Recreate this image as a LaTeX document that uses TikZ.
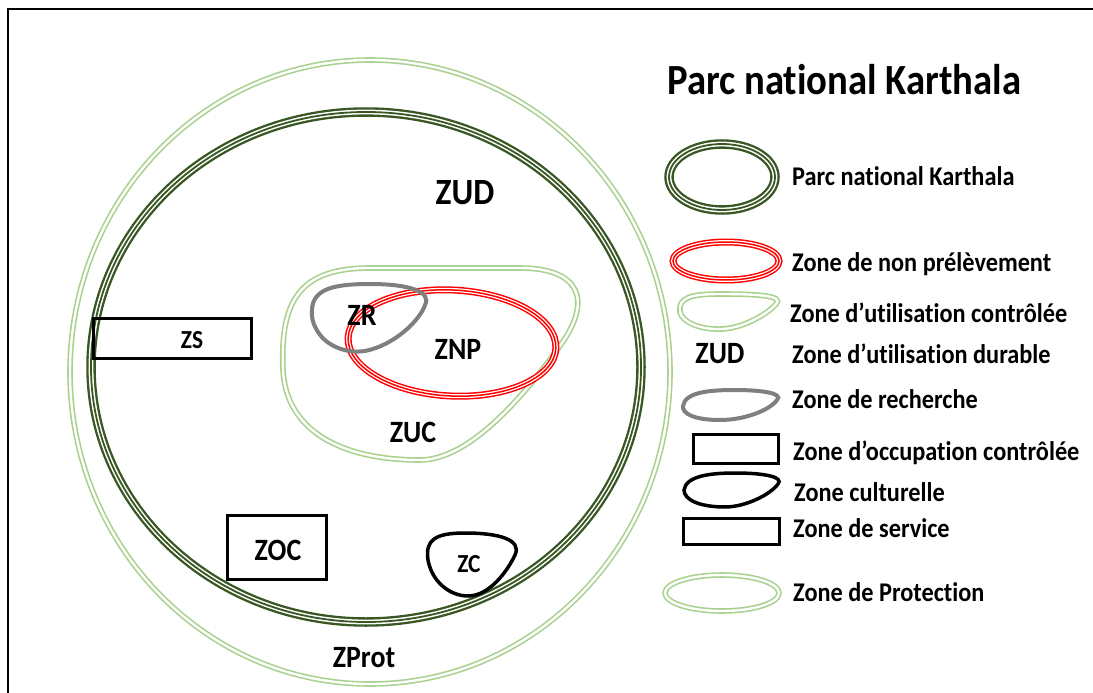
\documentclass[tikz,border=0pt]{standalone}
\usepackage{fontspec}
\setmainfont[FakeStretch=0.9, Ligatures=NoCommon]{Carlito}
\usetikzlibrary{positioning}
\definecolor{kgreen}{RGB}{56, 87, 35}
\definecolor{lgreen}{RGB}{169, 209, 142}
\definecolor{rgrey}{RGB}{127, 127, 127}
\tikzset{parc/.style = {draw=kgreen, line width=9.5pt,
                        postaction={draw=white, line width=4.8pt},
                        postaction={draw=kgreen, line width=1.8pt}}}
\tikzset{nonpre/.style = {draw=red, line width=7pt,
                          postaction={draw=white, line width=4pt},
                          postaction={draw=red, line width=1.5pt}}}
\tikzset{ctrl/.style = {draw=lgreen, line width=1.6pt, double=white, double distance=2.4pt}}
\tikzset{rech/.style = {draw=rgrey, line width=4pt}}
\tikzset{cult/.style = {draw=black, line width=3.5pt}}
\tikzset{zone/.style = {draw=black, line width=3.5pt, rectangle, inner sep=0pt}}
\tikzset{lab/.style = {anchor=base, inner sep=0pt, font=\bfseries\fontsize{31}{33}\selectfont}}
\tikzset{leg/.style = {anchor=base west, inner sep=0pt, font=\bfseries\fontsize{27}{29}\selectfont}}

\begin{document}
\begin{tikzpicture}[x=1pt, y=-1pt]
    \useasboundingbox (0, 0) rectangle (1093, 693);
    \draw [line width=2.5pt] (8, 693) -- (8, 9) -- (1093, 9);

    % carte du parc
    \path [ctrl] (370, 372) ellipse [x radius=300, y radius=312];
    \path [parc] (366, 367) ellipse [x radius=275, y radius=255];

    \path [ctrl] (283, 370) .. controls (280, 300) and (300, 268) .. (370, 268)
        -- (520, 268) .. controls (580, 268) and (592, 300) .. (562, 343)
        .. controls (525, 395) and (470, 460) .. (420, 460)
        .. controls (340, 460) and (286, 430) .. (283, 370) -- cycle;
    \path [nonpre, rotate around={-3:(452, 343)}] (452, 343) ellipse [x radius=104, y radius=53];
    \path [rech] (312, 315) .. controls (310, 290) and (330, 284) .. (370, 284)
        .. controls (410, 284) and (432, 292) .. (425, 305)
        .. controls (420, 320) and (395, 345) .. (365, 351)
        .. controls (345, 354) and (326, 345) .. (318, 332)
        .. controls (314, 326) and (312, 320) .. (312, 315) -- cycle;
    \path [cult] (428, 560) .. controls (425, 540) and (435, 533) .. (465, 533)
        .. controls (500, 533) and (522, 540) .. (515, 555)
        .. controls (508, 570) and (490, 596) .. (468, 596)
        .. controls (450, 596) and (432, 582) .. (428, 560) -- cycle;

    \node [zone, minimum width=158pt, minimum height=40pt] (zsbox) at (172.5, 338.5) {};
    \node [zone, minimum width=99pt, minimum height=64pt] (zocbox) at (277, 547.5) {};

    \node [lab, font=\bfseries\fontsize{37}{39}\selectfont] (zud) at (465, 204) {ZUD};
    \node [lab] (zr) at (362, 325) {ZR};
    \node [lab] (znp) at (458, 359) {ZNP};
    \node [lab] (zuc) at (413, 442) {ZUC};
    \node [lab] (zprot) at (364, 667) {ZProt};
    \node [lab] (zoc) at (278, 560) {ZOC};
    \node [lab, font=\bfseries\fontsize{26}{28}\selectfont] (zs) at (192, 348) {ZS};
    \node [lab, font=\bfseries\fontsize{26}{28}\selectfont] (zc) at (469, 572) {ZC};

    % legende
    \node [leg, font=\bfseries\fontsize{43}{45}\selectfont] (titre) at (667, 95) {Parc national Karthala};

    \path [parc] (722, 177) ellipse [x radius=53, y radius=33];
    \path [nonpre] (726, 261) ellipse [x radius=53, y radius=19];
    \path [ctrl] (680, 312) .. controls (678, 298) and (690, 294) .. (720, 294)
        .. controls (760, 294) and (784, 296) .. (776, 304)
        .. controls (770, 312) and (745, 328) .. (722, 329)
        .. controls (700, 330) and (682, 322) .. (680, 312) -- cycle;
    \node [lab] (zudleg) at (720, 363) {ZUD};
    \path [rech] (683, 406) .. controls (685, 392) and (710, 390) .. (735, 390)
        .. controls (760, 390) and (784, 393) .. (777, 400)
        .. controls (770, 410) and (745, 420) .. (720, 420)
        .. controls (695, 420) and (682, 414) .. (683, 406) -- cycle;
    \node [zone, minimum width=85pt, minimum height=29pt] (occleg) at (736, 449) {};
    \path [cult] (684, 490) .. controls (686, 476) and (710, 473) .. (735, 473)
        .. controls (765, 473) and (784, 477) .. (778, 484)
        .. controls (770, 495) and (745, 507) .. (725, 507)
        .. controls (700, 507) and (684, 500) .. (684, 490) -- cycle;
    \node [zone, minimum width=96pt, minimum height=26pt] (servleg) at (731.5, 531.5) {};
    \path [ctrl] (722, 593) ellipse [x radius=57, y radius=18];

    \node [leg] (l1) at (792, 185) {Parc national Karthala};
    \node [leg] (l2) at (792, 271) {Zone de non prélèvement};
    \node [leg] (l3) at (790, 322) {Zone d’utilisation contrôlée};
    \node [leg] (l4) at (792, 363) {Zone d’utilisation durable};
    \node [leg] (l5) at (792, 408) {Zone de recherche};
    \node [leg] (l6) at (793, 460) {Zone d’occupation contrôlée};
    \node [leg] (l7) at (794, 501) {Zone culturelle};
    \node [leg] (l8) at (793, 537) {Zone de service};
    \node [leg] (l9) at (793, 601) {Zone de Protection};
\end{tikzpicture}
\end{document}
